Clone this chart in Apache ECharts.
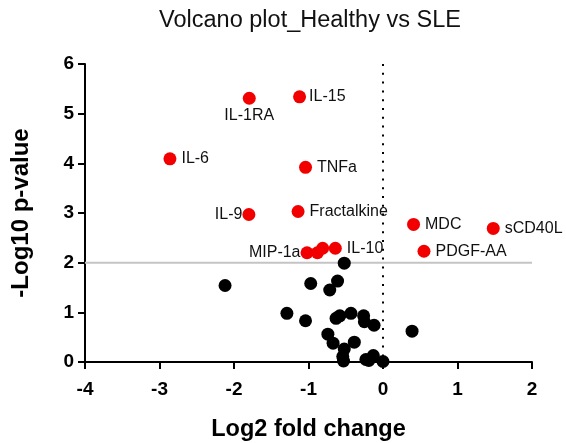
<!DOCTYPE html>
<html>
<head>
<meta charset="utf-8">
<script src="https://cdn.jsdelivr.net/npm/echarts@6/dist/echarts.min.js"></script>
<style>html,body{margin:0;padding:0;background:#fff}#c{width:566px;height:443px}</style>
</head>
<body>
<div id="c"></div>
<script>
// ---- data ----
const sigNames = ['IL-1RA','IL-15','IL-6','TNFa','IL-9','Fractalkine','MIP-1a','','','IL-10','MDC','sCD40L','PDGF-AA'];
const sigLog2FC = [-1.795,-1.12,-2.86,-1.04,-1.80,-1.14,-1.02,-0.88,-0.81,-0.64,0.41,1.48,0.55];
const sigNegLogP = [5.31,5.34,4.09,3.92,2.97,3.03,2.20,2.20,2.29,2.29,2.77,2.69,2.23];

const nsLog2FC = [-0.52,-2.12,-0.97,-0.61,-0.715,-1.29,-1.04,-0.63,-0.58,-0.43,-0.26,-0.25,-0.12,0.39,-0.74,-0.67,-0.385,-0.52,-0.54,-0.53,-0.23,-0.13,0.0,-0.19];
const nsNegLogP = [1.99,1.54,1.58,1.63,1.45,0.98,0.83,0.88,0.93,0.98,0.93,0.81,0.74,0.62,0.56,0.38,0.40,0.26,0.11,0.02,0.05,0.13,0.01,0.03];

const xTicks = [-4,-3,-2,-1,0,1,2];
const yTicks = [0,1,2,3,4,5,6];
const pThreshold = 2;
const fcCenter = 0;

// ---- label placement (style) ----
const labelStyle = {
  'IL-1RA': {position:'bottom', distance:3, offset:[5,0]},
  'IL-15': {position:'right', distance:3, offset:[0,14]},
  'IL-9': {position:'left', distance:0},
  'MIP-1a': {position:'left', distance:0, offset:[0,1]},
};

const font = "'Liberation Sans', Arial, Helvetica, sans-serif";

const sigData = sigNames.map((n,i)=>{
  const s = labelStyle[n] || {position:'right', distance:5, offset:[0,1]};
  return {
    name:n, value:[sigLog2FC[i], sigNegLogP[i]],
    label:{show: n !== '', position:s.position, distance:s.distance, offset:s.offset||[0,0], formatter:'{b}'}
  };
});
const nsData = nsLog2FC.map((x,i)=>[x, nsNegLogP[i]]);

const chart = echarts.init(document.getElementById('c'), null, {renderer:'canvas'});
chart.setOption({
  animation:false,
  backgroundColor:'#fff',
  title:{
    text:'Volcano plot_Healthy vs SLE',
    left:310, top:9, textAlign:'center', padding:0,
    textStyle:{fontFamily:font, fontSize:23.5, fontWeight:'normal', color:'#111'}
  },
  grid:{left:85, right:34, top:64, bottom:81, containLabel:false, outerBoundsMode:'none'},
  xAxis:{
    type:'value', min:xTicks[0], max:xTicks[xTicks.length-1], interval:1,
    name:'Log2 fold change', nameLocation:'middle', nameGap:56,
    nameTextStyle:{fontFamily:font, fontSize:23.5, fontWeight:'bold', color:'#000'},
    axisLine:{onZero:false, lineStyle:{color:'#000', width:2}},
    axisTick:{show:true, length:7, inside:false, lineStyle:{color:'#000', width:2}},
    axisLabel:{margin:18, fontFamily:font, fontSize:19, fontWeight:'bold', color:'#000'},
    splitLine:{show:false}
  },
  yAxis:{
    type:'value', min:yTicks[0], max:yTicks[yTicks.length-1], interval:1,
    name:'-Log10 p-value', nameLocation:'middle', nameGap:52, nameRotate:90,
    nameTextStyle:{fontFamily:font, fontSize:24, fontWeight:'bold', color:'#000'},
    axisLine:{show:true, onZero:false, lineStyle:{color:'#000', width:2}},
    axisTick:{show:true, length:7, inside:false, lineStyle:{color:'#000', width:2}},
    axisLabel:{margin:11, fontFamily:font, fontSize:19, fontWeight:'bold', color:'#000'},
    splitLine:{show:false}
  },
  series:[
    {
      type:'line', z:1, silent:true, symbol:'none',
      data:[[xTicks[0], pThreshold],[xTicks[xTicks.length-1], pThreshold]],
      lineStyle:{color:'#c4c4c4', width:2}
    },
    {
      type:'line', z:1, silent:true, symbol:'none',
      data:[[fcCenter, yTicks[yTicks.length-1]],[fcCenter, yTicks[0]]],
      lineStyle:{color:'#000', width:2, type:[2,6.8]}
    },
    {
      type:'scatter', z:3, symbol:'circle', symbolSize:13,
      data:nsData, itemStyle:{color:'#000', opacity:1}
    },
    {
      type:'scatter', z:4, symbol:'circle', symbolSize:13,
      data:sigData, itemStyle:{color:'#f20000', opacity:1},
      label:{show:true, fontFamily:font, fontSize:16, color:'#111'},
      labelLayout:{hideOverlap:false}
    }
  ]
});
</script>
</body>
</html>
